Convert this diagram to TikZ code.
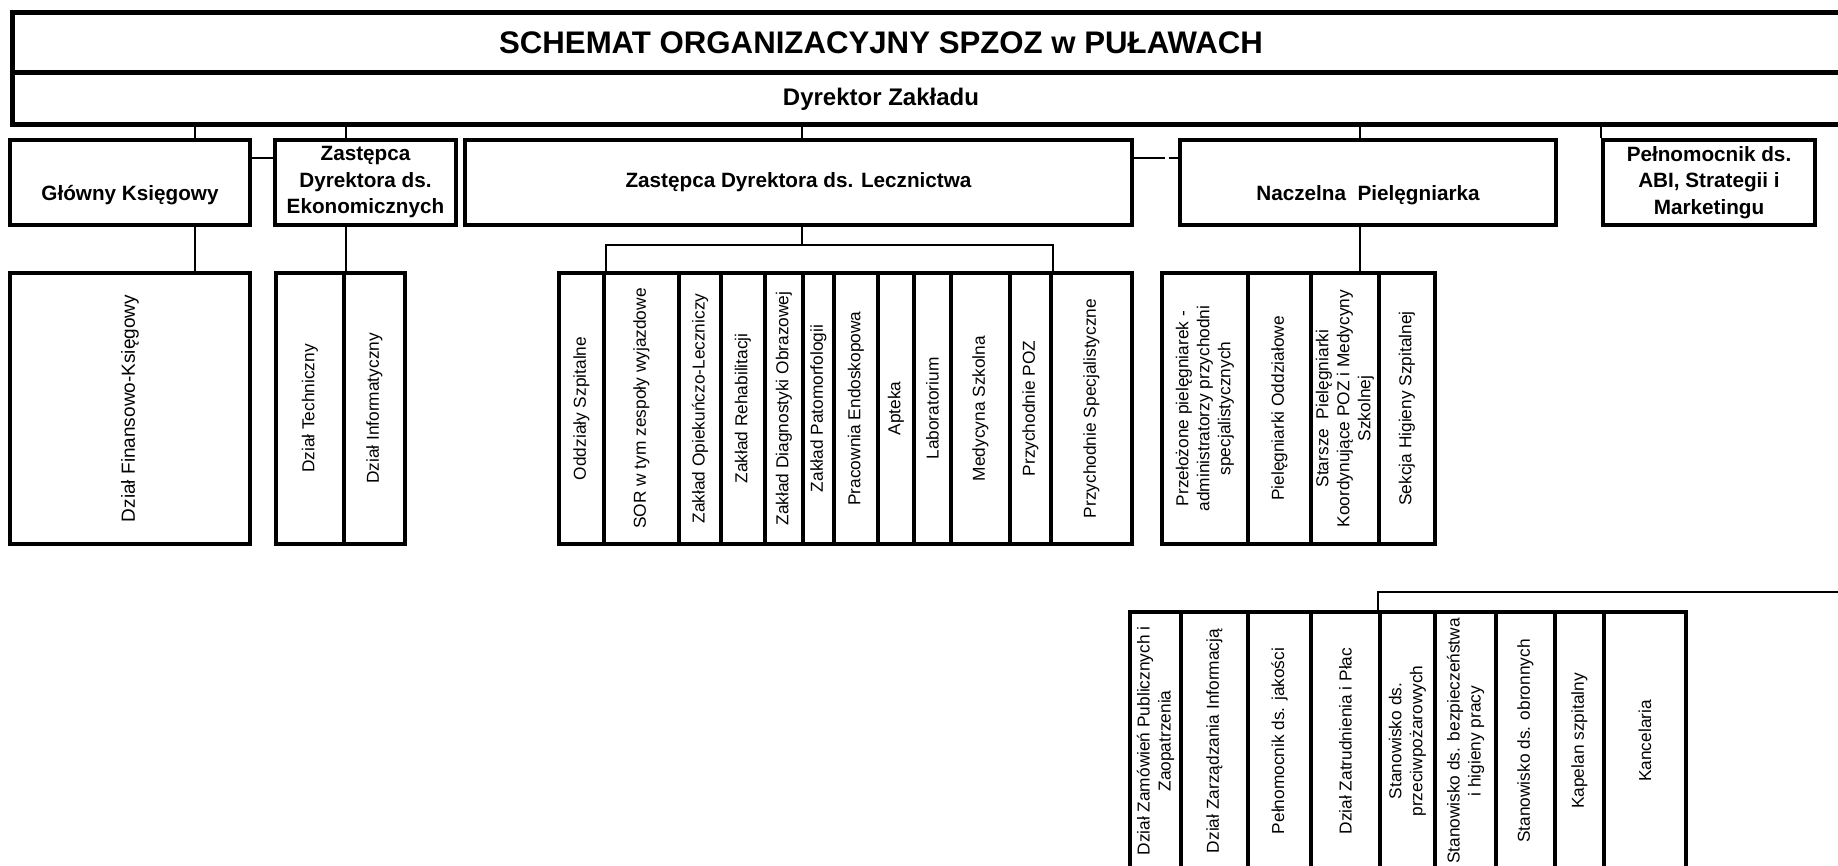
\documentclass[tikz,border=0pt]{standalone}
\usepackage{fontspec}
\setmainfont{Liberation Sans}
\usepackage{tikz}

\begin{document}
\begin{tikzpicture}[%
        x=1pt, y=-1pt,
        framebox/.style={ draw, line width=5pt, inner sep=0pt },%
        headbox/.style={ draw, line width=4.2pt, inner sep=0pt, align=center, minimum height=85pt, font=\fontsize{20.7}{26.5}\selectfont\bfseries },%
        lowtext/.style={ text height=36pt, text depth=1pt },%
        deptbox/.style={ draw, line width=4.2pt, inner sep=0pt, rotate=90, align=center, minimum width=271pt, font=\fontsize{17.3}{21}\selectfont },%
        postbox/.style={ deptbox, minimum width=258pt },%
        link/.style={ line width=2pt }%
      ]
      \useasboundingbox (0,0) rectangle (1838,865);
      \node (ramka) at (936,42) [framebox, minimum width=1848pt, minimum height=60pt]{};
      \node (dyr) at (936,98) [framebox, minimum width=1848pt, minimum height=52pt]{};
      \node (tytul) at (881,43) [font=\fontsize{31.2}{37}\selectfont\bfseries]{SCHEMAT ORGANIZACYJNY SPZOZ w PUŁAWACH};
      \node (dyrtxt) at (881,99) [font=\fontsize{24}{29}\selectfont\bfseries]{Dyrektor Zakładu};

      \node (gk) at (130,182.5) [headbox, lowtext, minimum width=240pt]{Główny Księgowy};
      \node (zde) at (365.5,182.5) [headbox, minimum width=181pt]{Zastępca\\Dyrektora ds.\\Ekonomicznych};
      \node (zdl) at (798.5,182.5) [headbox, minimum width=667pt]{Zastępca Dyrektora ds. Lecznictwa};
      \node (np) at (1368,182.5) [headbox, lowtext, minimum width=376pt]{Naczelna\ \ Pielęgniarka};
      \node (pel) at (1709,182.5) [headbox, minimum width=212pt]{Pełnomocnik ds.\\ABI, Strategii i\\Marketingu};

      \node (fin) at (130,408.5) [deptbox, minimum height=240pt, font=\fontsize{19}{23}\selectfont]{Dział Finansowo-Księgowy};
      \node (dtech) at (310,408.5) [deptbox, minimum height=68pt]{Dział Techniczny};
      \node (dinf) at (374.5,408.5) [deptbox, minimum height=61pt]{Dział Informatyczny};

      \node (odd) at (581.5,408.5) [deptbox, minimum height=45pt]{Oddziały Szpitalne};
      \node (sor) at (641.5,408.5) [deptbox, minimum height=75pt]{SOR w tym zespoły wyjazdowe};
      \node (zol) at (700,408.5) [deptbox, minimum height=42pt]{Zakład Opiekuńczo-Leczniczy};
      \node (reh) at (743,408.5) [deptbox, minimum height=44pt]{Zakład Rehabilitacji};
      \node (diag) at (784,408.5) [deptbox, minimum height=38pt]{Zakład Diagnostyki Obrazowej};
      \node (pato) at (818.5,408.5) [deptbox, minimum height=31pt]{Zakład Patomorfologii};
      \node (endo) at (856,408.5) [deptbox, minimum height=44pt]{Pracownia Endoskopowa};
      \node (apt) at (896,408.5) [deptbox, minimum height=36pt]{Apteka};
      \node (lab) at (932.5,408.5) [deptbox, minimum height=37pt]{Laboratorium};
      \node (med) at (980.5,408.5) [deptbox, minimum height=59pt]{Medycyna Szkolna};
      \node (poz) at (1030.5,408.5) [deptbox, minimum height=41pt]{Przychodnie POZ};
      \node (spec) at (1091.5,408.5) [deptbox, minimum height=81pt]{Przychodnie Specjalistyczne};

      \node (prz) at (1205,408.5) [deptbox, minimum height=86pt]{Przełożone pielęgniarek -\\administratorzy przychodni\\specjalistycznych};
      \node (oddz) at (1279.5,408.5) [deptbox, minimum height=63pt]{Pielęgniarki Oddziałowe};
      \node (sta) at (1345,408.5) [deptbox, minimum height=68pt]{Starsze\ \ Pielęgniarki\\Koordynujące POZ i Medycyny\\Szkolnej};
      \node (hig) at (1407,408.5) [deptbox, minimum height=56pt]{Sekcja Higieny Szpitalnej};

      \node (zam) at (1155.5,741) [postbox, minimum height=51pt]{Dział Zamówień Publicznych i\\Zaopatrzenia};
      \node (zarz) at (1214.5,741) [postbox, minimum height=67pt]{Dział Zarządzania Informacją};
      \node (jak) at (1279.5,741) [postbox, minimum height=63pt]{Pełnomocnik ds. jakości};
      \node (zat) at (1345.5,741) [postbox, minimum height=69pt]{Dział Zatrudnienia i Płac};
      \node (ppoz) at (1407.5,741) [postbox, minimum height=55pt]{Stanowisko ds.\\przeciwpożarowych};
      \node (bhp) at (1465.5,741) [postbox, minimum height=61pt]{Stanowisko ds. bezpieczeństwa\\i higieny pracy};
      \node (obr) at (1525.5,741) [postbox, minimum height=59pt]{Stanowisko ds. obronnych};
      \node (kap) at (1579.5,741) [postbox, minimum height=49pt]{Kapelan szpitalny};
      \node (kanc) at (1645,741) [postbox, minimum height=82pt]{Kancelaria};

      \coordinate (rozw) at (802,245);
      \coordinate (prawo) at (1860,592);
      \draw [link] (195,0 |- dyr.south) -- (195,0 |- gk.north);
      \draw [link] (dtech.south east |- dyr.south) -- (dtech.south east |- zde.north);
      \draw [link] (rozw |- dyr.south) -- (rozw |- zdl.north);
      \draw [link] (1360,0 |- dyr.south) -- (1360,0 |- np.north);
      \draw [link] (pel.north west |- dyr.south) -- (pel.north west);
      \draw [link] (gk.east |- 0,158) -- (zde.west |- 0,158);
      \draw [link, dash pattern=on 31pt off 4pt] (zdl.east |- 0,158) -- (np.west |- 0,158);
      \draw [link] (195,0 |- gk.south) -- (195,0 |- fin.east);
      \draw [link] (dtech.south east |- zde.south) -- (dtech.south east);
      \draw [link] (rozw |- zdl.south) -- (rozw);
      \draw [link] (odd.south east) |- (rozw) -| (poz.south east);
      \draw [link] (1360,0 |- np.south) -- (1360,0 |- sta.east);
      \draw [link] (prawo) -| (ppoz.north east);
    \end{tikzpicture}
\end{document}
